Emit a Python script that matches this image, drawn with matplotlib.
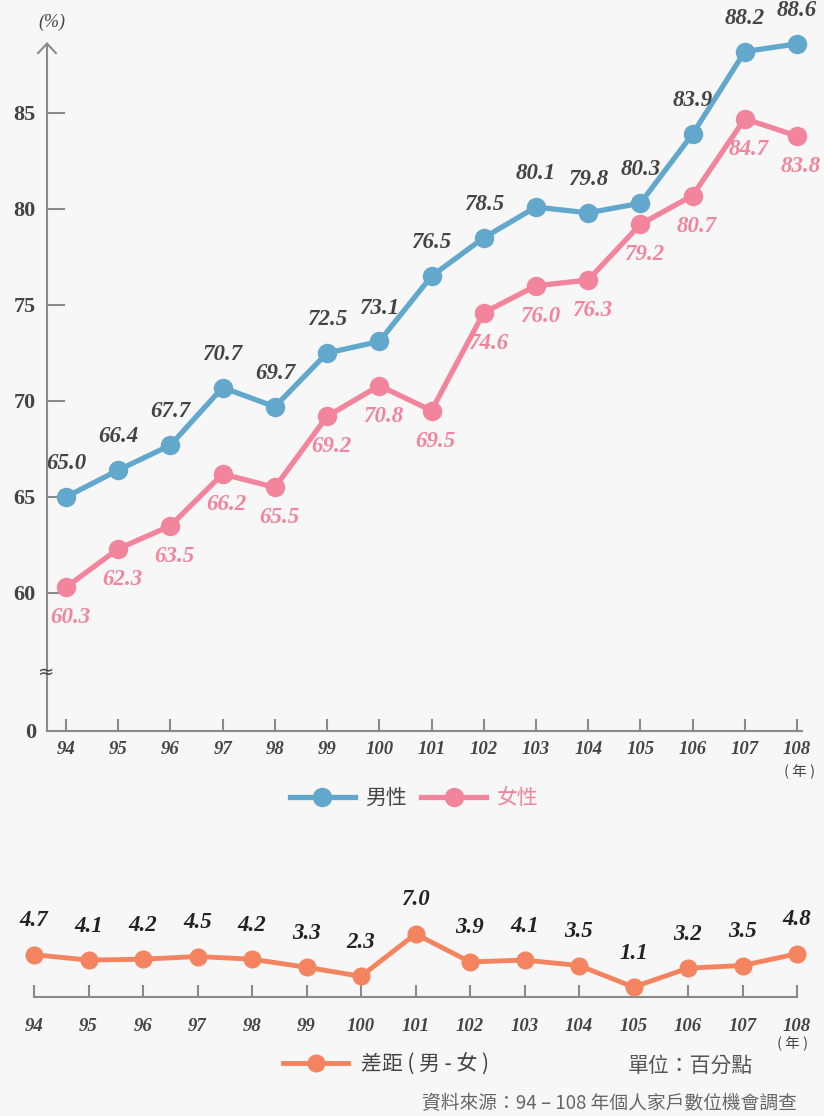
import numpy as np
import matplotlib
matplotlib.use("Agg")
import matplotlib.pyplot as plt
from matplotlib.lines import Line2D

# data
years = [94, 95, 96, 97, 98, 99, 100, 101, 102, 103, 104, 105, 106, 107, 108]
male = [65.0, 66.4, 67.7, 70.7, 69.7, 72.5, 73.1, 76.5, 78.5, 80.1, 79.8, 80.3, 83.9, 88.2, 88.6]
female = [60.3, 62.3, 63.5, 66.2, 65.5, 69.2, 70.8, 69.5, 74.6, 76.0, 76.3, 79.2, 80.7, 84.7, 83.8]
gap = [4.7, 4.1, 4.2, 4.5, 4.2, 3.3, 2.3, 7.0, 3.9, 4.1, 3.5, 1.1, 3.2, 3.5, 4.8]
yticks = [60, 65, 70, 75, 80, 85]

BG = "#f7f7f7"
BLUE = "#61a8cc"
PINK = "#f2849c"
ORANGE = "#f4845f"
AXC = "#8a8a8a"
TXT = "#444444"
CJK = ["Noto Sans CJK TC", "DejaVu Sans"]
SERIF = "Liberation Serif"

W, H = 824, 1116
fig = plt.figure(figsize=(W / 100, H / 100), dpi=100, facecolor=BG)

def px(x0, y0, x1, y1):
    # pixel box -> figure fraction rect
    return [x0 / W, 1 - y1 / H, (x1 - x0) / W, (y1 - y0) / H]

# ---- top chart ----
ax = fig.add_axes(px(47, 42, 802, 731))
ax.set_facecolor("none")
ppu = 19.2  # pixels per unit
y_bot = 60 - (731 - 593) / ppu
y_top = 60 + (593 - 42) / ppu
ax.set_ylim(y_bot, y_top)
step = 52.2
ax.set_xlim(94 - (66 - 47) / step, 108 + (802 - 797) / step)

ax.plot(years, male, color=BLUE, lw=3.8, marker="o", ms=13, clip_on=False, zorder=3, label="男性")
ax.plot(years, female, color=PINK, lw=3.8, marker="o", ms=13, clip_on=False, zorder=3, label="女性")

for x, v in zip(years, male):
    ax.annotate(f"{v:.1f}", (x, v), xytext=(0, 24), textcoords="offset points",
                ha="center", va="center", fontsize=16.5, family=SERIF,
                weight="bold", style="italic", color=TXT, annotation_clip=False)
for x, v in zip(years, female):
    ax.annotate(f"{v:.1f}", (x, v), xytext=(3, -22), textcoords="offset points",
                ha="center", va="center", fontsize=16.5, family=SERIF,
                weight="bold", style="italic", color=PINK, annotation_clip=False)

for s in ["top", "right", "left"]:
    ax.spines[s].set_visible(False)
ax.spines["bottom"].set_color(AXC)
ax.spines["bottom"].set_linewidth(1.5)
ax.annotate("", xy=(0, 1), xytext=(0, 0), xycoords="axes fraction",
            arrowprops=dict(arrowstyle="->,head_length=0.7,head_width=0.65",
                            color=AXC, lw=1.5, shrinkA=0, shrinkB=0))

ax.set_yticks([y_bot] + yticks)
ax.set_yticklabels(["0"] + [str(t) for t in yticks])
ax.tick_params(axis="y", direction="in", length=13, width=1.5, color=AXC, pad=8)
ax.set_xticks(years)
ax.set_xticklabels([str(y) for y in years])
ax.tick_params(axis="x", direction="in", length=9, width=1.5, color=AXC, pad=7)
for lab in ax.get_yticklabels():
    lab.set_fontfamily(SERIF)
    lab.set_fontweight("bold")
    lab.set_fontsize(16)
    lab.set_color(TXT)
for lab in ax.get_xticklabels():
    lab.set_fontfamily(SERIF)
    lab.set_fontweight("bold")
    lab.set_fontstyle("italic")
    lab.set_fontsize(13.5)
    lab.set_color(TXT)

fig.text(52 / W, 1 - 22 / H, "(%)", ha="center", va="center", fontsize=13,
         family=SERIF, style="italic", color=TXT)
fig.text(46 / W, 1 - 672 / H, "≈", ha="center", va="center", fontsize=14, color=TXT)
fig.text(800 / W, 1 - 772 / H, "( 年 )", ha="center", va="center", fontsize=10.5,
         family=CJK, color=TXT)

leg = fig.legend(loc="center", bbox_to_anchor=(414 / W, 1 - 798 / H), ncol=2,
                 frameon=False, handlelength=3.1, handletextpad=0.5,
                 columnspacing=0.7, prop={"family": CJK, "size": 15}, numpoints=1)
leg.get_texts()[0].set_color(TXT)
leg.get_texts()[1].set_color(PINK)

# ---- bottom chart ----
bx = fig.add_axes(px(34, 907, 797, 997))
bx.set_facecolor("none")
bx.set_xlim(94, 108)
bx.set_ylim(0, 10)
bx.plot(years, gap, color=ORANGE, lw=3.5, marker="o", ms=12, clip_on=False,
        zorder=3, label="差距 ( 男 - 女 )")
for x, v in zip(years, gap):
    bx.annotate(f"{v:.1f}", (x, v), xytext=(0, 24.5), textcoords="offset points",
                ha="center", va="center", fontsize=16.5, family=SERIF,
                weight="bold", style="italic", color="#222222", annotation_clip=False)
for s in ["top", "right", "left"]:
    bx.spines[s].set_visible(False)
bx.spines["bottom"].set_color(AXC)
bx.spines["bottom"].set_linewidth(1.5)
bx.set_yticks([])
bx.set_xticks(years)
bx.set_xticklabels([str(y) for y in years])
bx.tick_params(axis="x", direction="in", length=9, width=1.5, color=AXC, pad=15)
for lab in bx.get_xticklabels():
    lab.set_fontfamily(SERIF)
    lab.set_fontweight("bold")
    lab.set_fontstyle("italic")
    lab.set_fontsize(13.5)
    lab.set_color(TXT)

fig.text(793 / W, 1 - 1044 / H, "( 年 )", ha="center", va="center", fontsize=10.5,
         family=CJK, color=TXT)

leg2 = fig.legend(handles=[Line2D([], [], color=ORANGE, lw=3.5, marker="o", ms=12)],
                  labels=["差距 ( 男 - 女 )"], loc="center",
                  bbox_to_anchor=(386 / W, 1 - 1064 / H), frameon=False,
                  handlelength=3.1, handletextpad=0.6,
                  prop={"family": CJK, "size": 15})
leg2.get_texts()[0].set_color(TXT)

fig.text(690 / W, 1 - 1066 / H, "單位：百分點", ha="center", va="center",
         fontsize=15, family=CJK, color="#555555")
fig.text(797 / W, 1 - 1104 / H, "資料來源：94 – 108 年個人家戶數位機會調查",
         ha="right", va="center", fontsize=13.5, family=CJK, color="#666666")

fig.savefig("out.png", dpi=100, facecolor=BG)
